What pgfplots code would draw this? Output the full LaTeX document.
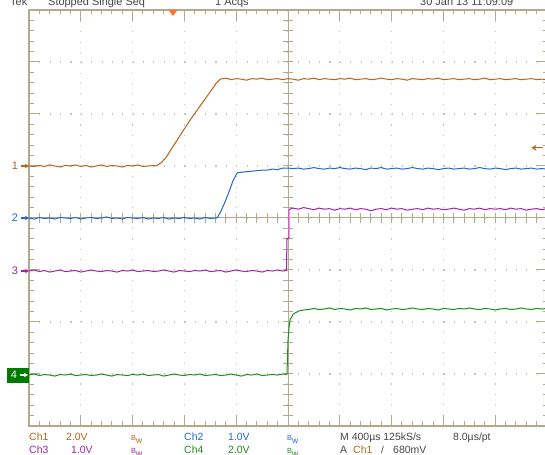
\documentclass[border=0pt]{standalone}
\usepackage{fontspec}
\setmainfont{Liberation Sans}
\usepackage{pgfplots}
\pgfplotsset{compat=1.18}
\usetikzlibrary{arrows.meta}

\definecolor{chA}{RGB}{188,98,22}
\definecolor{chB}{RGB}{36,104,204}
\definecolor{chC}{RGB}{164,32,172}
\definecolor{chD}{RGB}{30,142,30}
\definecolor{boxgreen}{RGB}{0,122,0}
\definecolor{pinkline}{RGB}{255,130,255}
\definecolor{frame}{RGB}{178,170,142}
\definecolor{griddot}{RGB}{196,196,186}
\definecolor{trig}{RGB}{255,118,40}
\definecolor{infotext}{RGB}{70,70,70}

\newcommand{\bw}[1]{{\color{#1}\fontsize{7.5}{8}\selectfont B\raisebox{-2.2bp}{\fontsize{8.5}{9}\selectfont w}}}

\begin{document}
\begin{tikzpicture}[x=1bp,y=1bp]
\useasboundingbox (0,0) rectangle (545,455);
\fill[white] (0,0) rectangle (545,455);

% header line, cut off by the top of the screen grab
\begin{scope}[every node/.style={anchor=base west, inner sep=0pt, text=infotext, font=\fontsize{11}{12}\selectfont}]
  \node at (10,449.5) {Tek};
  \node at (48,449.5) {Stopped Single Seq};
  \node at (215,449.5) {1 Acqs};
  \node at (420,449.5) {30 Jan 13 11:09:09};
\end{scope}

\begin{axis}[
  at={(29bp,29bp)}, anchor=south west,
  scale only axis, width=518bp, height=416bp,
  xmin=-5, xmax=5, ymin=-4, ymax=4,
  xtick={-5,...,5}, ytick={-4,...,4},
  minor tick num=4,
  xticklabels={}, yticklabels={},
  tick align=inside,
  major tick length=11bp, minor tick length=4.5bp,
  every tick/.style={frame, line width=1bp},
  axis line style={frame, line width=1.2bp},
  grid=major,
  major grid style={griddot, line width=1.1bp, dash pattern=on 1.1bp off 9.26bp},
  clip=false,
  every axis plot/.append style={line width=1bp, mark=none},
]

% centre graticule lines with their fine ticks
\draw[frame, line width=1bp] (axis cs:0,-4) -- (axis cs:0,4);
\draw[frame, line width=1bp] (axis cs:-5,0) -- (axis cs:5,0);
\pgfplotsinvokeforeach{-4.8,-4.6,...,4.7}{
  \draw[frame, line width=1bp] ([yshift=-5bp]axis cs:#1,0) -- ([yshift=5bp]axis cs:#1,0);
}
\pgfplotsinvokeforeach{-3.8,-3.6,...,3.7}{
  \draw[frame, line width=1bp] ([xshift=-5bp]axis cs:0,#1) -- ([xshift=5bp]axis cs:0,#1);
}

% Ch1
\addplot[chA] coordinates {
(-5.0,1.00)(-4.9,0.99)(-4.8,1.01)(-4.7,0.99)(-4.6,1.02)(-4.5,1.00)(-4.4,0.98)(-4.3,1.01)
(-4.2,1.00)(-4.1,1.02)(-4.0,0.99)(-3.9,1.01)(-3.8,0.98)(-3.7,1.00)(-3.6,1.02)(-3.5,0.99)
(-3.4,1.01)(-3.3,1.00)(-3.2,0.98)(-3.1,1.01)(-3.0,1.00)(-2.9,1.02)(-2.8,0.99)(-2.7,1.00)
(-2.6,1.01)(-2.55,1.00)
(-2.45,1.06)(-2.35,1.17)(-2.25,1.33)(-2.15,1.48)(-2.05,1.64)(-1.95,1.79)(-1.85,1.94)
(-1.75,2.08)(-1.65,2.22)(-1.55,2.36)(-1.45,2.50)(-1.38,2.60)(-1.31,2.67)
(-1.2,2.69)(-1.1,2.66)(-1.0,2.68)(-0.9,2.67)(-0.8,2.65)(-0.7,2.68)(-0.6,2.67)(-0.5,2.69)
(-0.4,2.66)(-0.3,2.67)(-0.2,2.68)(-0.1,2.66)(0.0,2.68)(0.1,2.67)(0.2,2.65)(0.3,2.68)
(0.4,2.67)(0.5,2.69)(0.6,2.66)(0.7,2.68)(0.8,2.67)(0.9,2.66)(1.0,2.68)(1.1,2.67)
(1.2,2.69)(1.3,2.66)(1.4,2.67)(1.5,2.68)(1.6,2.66)(1.7,2.67)(1.8,2.69)(1.9,2.67)
(2.0,2.66)(2.1,2.68)(2.2,2.67)(2.3,2.65)(2.4,2.68)(2.5,2.67)(2.6,2.66)(2.7,2.68)
(2.8,2.67)(2.9,2.69)(3.0,2.66)(3.1,2.67)(3.2,2.68)(3.3,2.66)(3.4,2.67)(3.5,2.68)
(3.6,2.66)(3.7,2.67)(3.8,2.69)(3.9,2.66)(4.0,2.67)(4.1,2.68)(4.2,2.66)(4.3,2.67)
(4.4,2.68)(4.5,2.66)(4.6,2.67)(4.7,2.68)(4.8,2.66)(4.9,2.67)(5.0,2.66)
};

% Ch2
\addplot[chB] coordinates {
(-5.0,0.00)(-4.9,-0.02)(-4.8,0.01)(-4.7,-0.01)(-4.6,0.00)(-4.5,-0.02)(-4.4,0.01)(-4.3,0.00)
(-4.2,-0.01)(-4.1,0.01)(-4.0,-0.02)(-3.9,0.00)(-3.8,0.01)(-3.7,-0.01)(-3.6,0.00)(-3.5,0.02)
(-3.4,-0.01)(-3.3,0.00)(-3.2,-0.02)(-3.1,0.01)(-3.0,0.00)(-2.9,-0.01)(-2.8,0.01)(-2.7,-0.02)
(-2.6,0.00)(-2.5,-0.01)(-2.4,0.01)(-2.3,-0.02)(-2.2,0.00)(-2.1,-0.01)(-2.0,0.01)(-1.9,-0.01)
(-1.8,0.00)(-1.7,-0.02)(-1.6,0.01)(-1.5,-0.01)(-1.4,0.00)(-1.36,0.01)
(-1.30,0.12)(-1.22,0.30)(-1.14,0.50)(-1.06,0.72)(-0.98,0.87)(-0.9,0.88)(-0.8,0.89)
(-0.7,0.90)(-0.6,0.91)(-0.5,0.92)(-0.4,0.92)(-0.3,0.94)(-0.2,0.93)(-0.1,0.96)(0.0,0.96)
(0.1,0.95)(0.2,0.96)(0.3,0.94)(0.4,0.95)(0.5,0.97)(0.6,0.95)(0.7,0.94)(0.8,0.96)
(0.9,0.95)(1.0,0.97)(1.1,0.95)(1.2,0.94)(1.3,0.96)(1.4,0.95)(1.5,0.93)(1.6,0.96)
(1.7,0.95)(1.8,0.97)(1.9,0.94)(2.0,0.95)(2.1,0.96)(2.2,0.94)(2.3,0.95)(2.4,0.97)
(2.5,0.95)(2.6,0.94)(2.7,0.96)(2.8,0.95)(2.9,0.93)(3.0,0.95)(3.1,0.96)(3.2,0.94)
(3.3,0.95)(3.4,0.96)(3.5,0.94)(3.6,0.95)(3.7,0.97)(3.8,0.95)(3.9,0.94)(4.0,0.96)
(4.1,0.95)(4.2,0.93)(4.3,0.95)(4.4,0.96)(4.5,0.94)(4.6,0.95)(4.7,0.96)(4.8,0.94)
(4.9,0.95)(5.0,0.94)
};

% Ch3
\addplot[chC] coordinates {
(-5.0,-1.02)(-4.9,-1.00)(-4.8,-1.03)(-4.7,-1.01)(-4.6,-1.04)(-4.5,-1.02)(-4.4,-1.00)(-4.3,-1.03)
(-4.2,-1.02)(-4.1,-1.01)(-4.0,-1.04)(-3.9,-1.02)(-3.8,-1.00)(-3.7,-1.02)(-3.6,-1.03)(-3.5,-1.01)
(-3.4,-1.02)(-3.3,-1.04)(-3.2,-1.01)(-3.1,-1.02)(-3.0,-1.00)(-2.9,-1.03)(-2.8,-1.02)(-2.7,-1.01)
(-2.6,-1.03)(-2.5,-1.02)(-2.4,-1.00)(-2.3,-1.02)(-2.2,-1.04)(-2.1,-1.01)(-2.0,-1.02)(-1.9,-1.03)
(-1.8,-1.01)(-1.7,-1.02)(-1.6,-1.00)(-1.5,-1.03)(-1.4,-1.02)(-1.3,-1.01)(-1.2,-1.04)(-1.1,-1.02)
(-1.0,-1.00)(-0.9,-1.02)(-0.8,-1.03)(-0.7,-1.01)(-0.6,-1.02)(-0.5,-1.04)(-0.4,-1.01)(-0.3,-1.02)
(-0.2,-1.00)(-0.1,-1.02)(-0.03,-1.01)(-0.02,-0.40)(0.02,-0.38)(0.02,0.15)(0.06,0.18)
(0.1,0.19)(0.2,0.17)(0.3,0.20)(0.4,0.18)(0.5,0.16)(0.6,0.19)(0.7,0.17)(0.8,0.18)
(0.9,0.15)(1.0,0.18)(1.1,0.17)(1.2,0.19)(1.3,0.16)(1.4,0.18)(1.5,0.17)(1.6,0.14)
(1.7,0.17)(1.8,0.18)(1.9,0.16)(2.0,0.19)(2.1,0.17)(2.2,0.18)(2.3,0.15)(2.4,0.17)
(2.5,0.18)(2.6,0.16)(2.7,0.19)(2.8,0.17)(2.9,0.18)(3.0,0.16)(3.1,0.17)(3.2,0.19)
(3.3,0.17)(3.4,0.15)(3.5,0.18)(3.6,0.17)(3.7,0.19)(3.8,0.16)(3.9,0.18)(4.0,0.17)
(4.1,0.18)(4.2,0.16)(4.3,0.19)(4.4,0.17)(4.5,0.18)(4.6,0.15)(4.7,0.17)(4.8,0.18)
(4.9,0.16)(5.0,0.18)
};
\addplot[pinkline] coordinates {(0.02,-0.37)(0.02,0.15)};

% Ch4
\addplot[chD] coordinates {
(-5.0,-3.02)(-4.9,-3.00)(-4.8,-3.03)(-4.7,-3.01)(-4.6,-3.02)(-4.5,-3.04)(-4.4,-3.01)(-4.3,-3.02)
(-4.2,-3.00)(-4.1,-3.03)(-4.0,-3.02)(-3.9,-3.01)(-3.8,-3.03)(-3.7,-3.02)(-3.6,-3.00)(-3.5,-3.02)
(-3.4,-3.04)(-3.3,-3.01)(-3.2,-3.02)(-3.1,-3.03)(-3.0,-3.01)(-2.9,-3.02)(-2.8,-3.00)(-2.7,-3.03)
(-2.6,-3.02)(-2.5,-3.01)(-2.4,-3.04)(-2.3,-3.02)(-2.2,-3.00)(-2.1,-3.02)(-2.0,-3.03)(-1.9,-3.01)
(-1.8,-3.02)(-1.7,-3.00)(-1.6,-3.03)(-1.5,-3.02)(-1.4,-3.01)(-1.3,-3.03)(-1.2,-3.02)(-1.1,-3.00)
(-1.0,-3.02)(-0.9,-3.04)(-0.8,-3.01)(-0.7,-3.02)(-0.6,-3.00)(-0.5,-3.03)(-0.4,-3.02)(-0.3,-3.01)
(-0.2,-3.02)(-0.1,-3.00)(-0.02,-3.01)
(0.0,-2.35)(0.02,-2.10)(0.04,-1.96)(0.1,-1.85)(0.2,-1.79)(0.3,-1.77)(0.4,-1.76)
(0.5,-1.74)(0.6,-1.76)(0.7,-1.75)(0.8,-1.73)(0.9,-1.76)(1.0,-1.74)(1.1,-1.75)(1.2,-1.77)
(1.3,-1.74)(1.4,-1.75)(1.5,-1.73)(1.6,-1.76)(1.7,-1.75)(1.8,-1.74)(1.9,-1.77)(2.0,-1.75)
(2.1,-1.74)(2.2,-1.76)(2.3,-1.75)(2.4,-1.73)(2.5,-1.75)(2.6,-1.76)(2.7,-1.74)(2.8,-1.75)
(2.9,-1.77)(3.0,-1.74)(3.1,-1.75)(3.2,-1.76)(3.3,-1.74)(3.4,-1.75)(3.5,-1.73)(3.6,-1.75)
(3.7,-1.76)(3.8,-1.74)(3.9,-1.75)(4.0,-1.77)(4.1,-1.75)(4.2,-1.74)(4.3,-1.76)(4.4,-1.75)
(4.5,-1.73)(4.6,-1.75)(4.7,-1.76)(4.8,-1.74)(4.9,-1.75)(5.0,-1.74)
};

% channel ground markers
\tikzset{gnd/.style={line width=1.1bp, -{Stealth[length=4bp,width=4.5bp]}}}
\draw[gnd, chA] ([xshift=-8bp]axis cs:-5,1) -- (axis cs:-5,1);
\node[chA, font=\fontsize{11}{12}\selectfont] at ([xshift=-14bp]axis cs:-5,1) {1};
\draw[gnd, chB] ([xshift=-8bp]axis cs:-5,0) -- (axis cs:-5,0);
\node[chB, font=\fontsize{11}{12}\selectfont] at ([xshift=-14bp]axis cs:-5,0) {2};
\draw[gnd, chC] ([xshift=-8bp]axis cs:-5,-1.02) -- (axis cs:-5,-1.02);
\node[chC, font=\fontsize{11}{12}\selectfont] at ([xshift=-14bp]axis cs:-5,-1.02) {3};
\fill[boxgreen] ([xshift=-22bp,yshift=-7.5bp]axis cs:-5,-3.02) rectangle ([yshift=7.5bp]axis cs:-5,-3.02);
\draw[gnd, white] ([xshift=-9bp]axis cs:-5,-3.02) -- ([xshift=-1bp]axis cs:-5,-3.02);
\node[white, font=\fontsize{11}{12}\selectfont] at ([xshift=-15bp]axis cs:-5,-3.02) {4};

% trigger level and trigger position
\draw[chA, line width=1.4bp, -{Stealth[length=5bp,width=6bp]}] (axis cs:4.92,1.35) -- (axis cs:4.70,1.35);
\fill[trig] ([xshift=-4.5bp]axis cs:-2.22,4) -- ([xshift=4.5bp]axis cs:-2.22,4) -- ([yshift=-6bp]axis cs:-2.22,4) -- cycle;
\end{axis}

% readout
\begin{scope}[every node/.style={anchor=base west, inner sep=0pt, font=\fontsize{10.5}{12}\selectfont}]
  \node[text=chA] at (29,14) {Ch1};
  \node[text=chA] at (66,14) {2.0V};
  \node at (131,14) {\bw{chA}};
  \node[text=chB] at (184,14) {Ch2};
  \node[text=chB] at (228,14) {1.0V};
  \node at (287,14) {\bw{chB}};
  \node[text=infotext] at (340,14) {M 400µs 125kS/s};
  \node[text=infotext] at (453,14) {8.0µs/pt};
  \node[text=chC] at (29,1) {Ch3};
  \node[text=chC] at (71,1) {1.0V};
  \node at (131,1) {\bw{chC}};
  \node[text=chD] at (184,1) {Ch4};
  \node[text=chD] at (228,1) {2.0V};
  \node at (287,1) {\bw{chD}};
  \node[text=infotext] at (340,1) {A};
  \node[text=chA] at (353,1) {Ch1};
  \node[text=infotext] at (381,1) {\fontsize{10}{11}\selectfont /};
  \node[text=infotext] at (393,1) {680mV};
\end{scope}
\end{tikzpicture}
\end{document}
